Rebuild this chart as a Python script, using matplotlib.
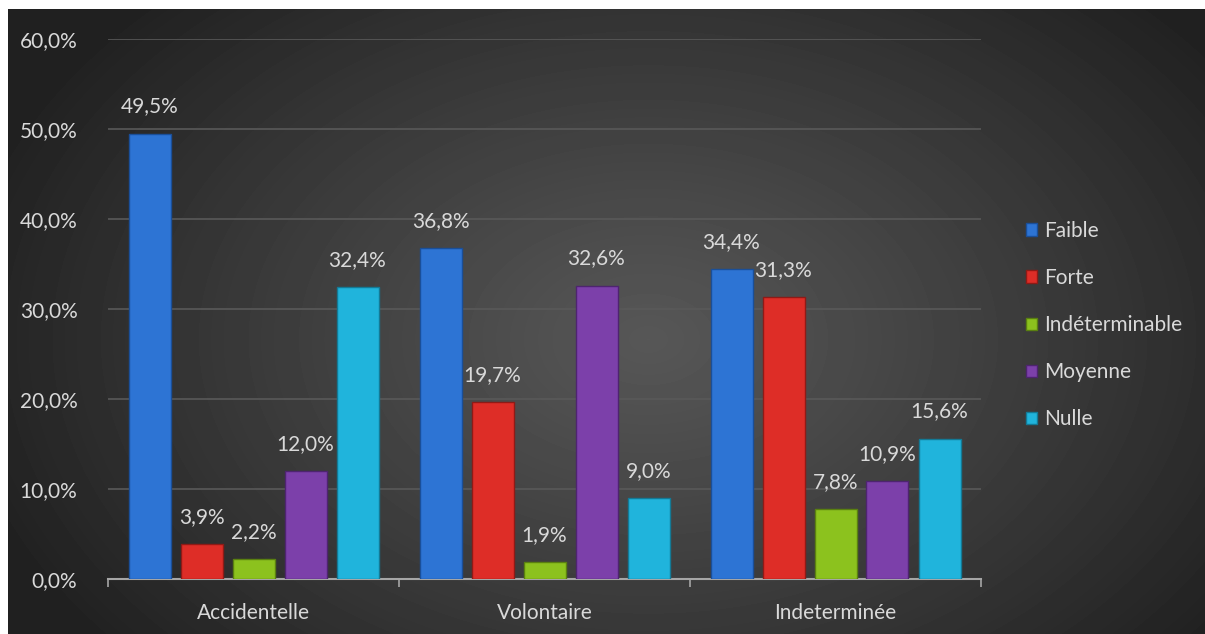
import matplotlib.pyplot as plt
import numpy as np

categories = ['Accidentelle', 'Volontaire', 'Indeterminée']
series = ['Faible', 'Forte', 'Indéterminable', 'Moyenne', 'Nulle']
faible = [49.5, 36.8, 34.4]
forte = [3.9, 19.7, 31.3]
indeterminable = [2.2, 1.9, 7.8]
moyenne = [12.0, 32.6, 10.9]
nulle = [32.4, 9.0, 15.6]
values = [faible, forte, indeterminable, moyenne, nulle]
colors = ['#2d74d4', '#de2d27', '#8cc21e', '#7c40aa', '#20b4dc']
edges = ['#1a4f99', '#8f1a16', '#5a8010', '#4e2470', '#137a96']

plt.rcParams['font.family'] = ['Lato', 'DejaVu Sans']
txt = '#d9d9d9'
fs = 15

fig = plt.figure(figsize=(12.05, 6.34), dpi=100)
fig.patch.set_facecolor('white')

# radial gradient background
bg = fig.add_axes([8 / 1205, 0, 1 - 8 / 1205, 1 - 9 / 634])
bg.set_axis_off()
h, w = 625, 1197
yy, xx = np.mgrid[0:h, 0:w]
cx, cy = 640, 330
r = np.sqrt(((xx - cx) / 700.0) ** 2 + ((yy - cy) / 480.0) ** 2)
r = np.clip(r, 0, 1)
light, dark = 0.34, 0.13
img = light + (dark - light) * r ** 1.1
bg.imshow(img, cmap='gray', vmin=0, vmax=1, aspect='auto',
          extent=[0, 1, 0, 1], interpolation='bilinear')

ax = fig.add_axes([108 / 1205, 55 / 634, (981 - 108) / 1205, 540 / 634])
ax.patch.set_alpha(0)

n = len(series)
width = 42 / 291
step = 52 / 291
x = np.arange(len(categories))
for i, (name, vals) in enumerate(zip(series, values)):
    pos = x + (i - (n - 1) / 2) * step
    ax.bar(pos, vals, width, color=colors[i], edgecolor=edges[i],
           linewidth=1, label=name, zorder=3)
    for p, v in zip(pos, vals):
        ax.text(p, v + 1.9, f'{v:.1f}%'.replace('.', ','), ha='center',
                va='bottom', color=txt, fontsize=fs)

ax.set_xlim(-0.5, len(categories) - 0.5)
ax.set_ylim(0, 60)
ax.set_yticks(np.arange(0, 61, 10))
ax.set_yticklabels([f'{v:.1f}%'.replace('.', ',') for v in np.arange(0, 61, 10)])
ax.yaxis.grid(True, color='#595959', linewidth=1.2, zorder=0)
ax.tick_params(axis='y', length=0, pad=22, labelcolor=txt, labelsize=fs)

ax.set_xticks(x)
ax.set_xticklabels(categories)
ax.tick_params(axis='x', length=0, pad=17, labelcolor=txt, labelsize=fs)
ax.set_xticks(np.arange(-0.5, len(categories)), minor=True)
ax.tick_params(axis='x', which='minor', length=6, color='#a6a6a6', width=1.2)

for s in ['top', 'right', 'left']:
    ax.spines[s].set_visible(False)
ax.spines['bottom'].set_color('#a6a6a6')
ax.spines['bottom'].set_linewidth(1.5)

leg = ax.legend(loc='center left', bbox_to_anchor=(1.03, 0.47), frameon=False,
                fontsize=fs, labelcolor=txt, handlelength=0.55, handleheight=0.55,
                handletextpad=0.3, labelspacing=1.3)

plt.savefig('out.png', dpi=100, facecolor=fig.get_facecolor())
